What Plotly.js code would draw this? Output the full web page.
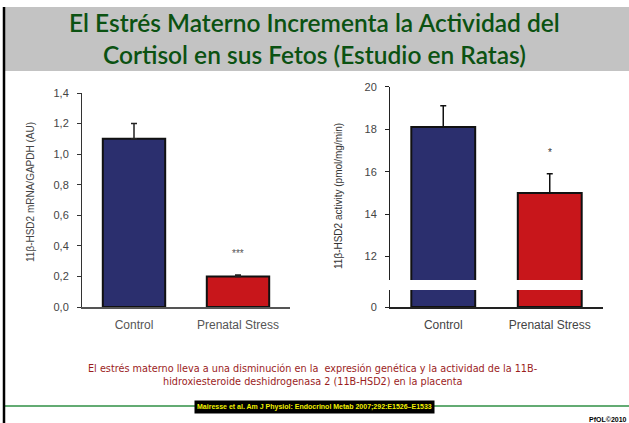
<!DOCTYPE html>
<html>
<head>
<meta charset="utf-8">
<script src="https://cdn.plot.ly/plotly-3.0.1.min.js"></script>
<style>
  html, body { margin: 0; padding: 0; background: #ffffff; }
  #chart { width: 629px; height: 423px; }
</style>
</head>
<body>
<div id="chart"></div>
<script>
// ---- data ----
const categories = ["Control", "Prenatal Stress"];
const mrnaValues = [1.10, 0.20];
const mrnaErrors = [0.10, 0.01];
const activityValues = [18.1, 15.0];
const activityErrors = [1.0, 0.9];
const mrnaTickVals = [0, 0.2, 0.4, 0.6, 0.8, 1.0, 1.2, 1.4];
const activityTickValsUpper = [12, 14, 16, 18, 20];
const activityTickValsLower = [0];
const mrnaSignificance = ["", "***"];
const activitySignificance = ["", "*"];
const barColors = ["#2b2f6e", "#c8161b"];

const titleLines = ["El Estrés Materno Incrementa la Actividad del", "Cortisol en sus Fetos (Estudio en Ratas)"];
const captionLines = ["El estrés materno lleva a una disminución en la  expresión genética y la actividad de la 11B-",
                      "hidroxiesteroide deshidrogenasa 2 (11B-HSD2) en la placenta"];
const reference = "Mairesse et al. Am J Physiol: Endocrinol Metab 2007;292:E1526–E1533";

const W = 629, H = 423;
const px = v => v / W;
const py = v => 1 - v / H;

const tickFont = {family: "Liberation Sans, Arial, sans-serif", size: 11, color: "#444"};
const barLine = {color: "#111", width: 2};

const traces = [
  {
    type: "bar", x: categories, y: mrnaValues, xaxis: "x", yaxis: "y",
    marker: {color: barColors, line: barLine},
    error_y: {type: "data", symmetric: false, array: mrnaErrors, arrayminus: [0, 0],
              color: "#222", thickness: 1.5, width: 3},
    hoverinfo: "none"
  },
  {
    type: "bar", x: categories, y: activityValues, xaxis: "x2", yaxis: "y2",
    marker: {color: barColors, line: barLine},
    error_y: {type: "data", symmetric: false, array: activityErrors, arrayminus: [0, 0],
              color: "#111", thickness: 1.5, width: 3},
    hoverinfo: "none"
  },
  {
    type: "bar", x: categories, y: activityValues, xaxis: "x2", yaxis: "y3",
    marker: {color: barColors, line: barLine},
    hoverinfo: "none"
  }
];

const annotations = [];
annotations.push({xref: "paper", yref: "paper", x: px(314), y: py(38.5), text: titleLines.join("<br>"),
  showarrow: false, xanchor: "center", yanchor: "middle", align: "center",
  font: {family: "Lato, sans-serif", size: 24.5, color: "#0b5212", weight: 600}});
captionLines.forEach((t, i) => {
  annotations.push({xref: "paper", yref: "paper", x: px(313), y: py(368 + i * 13), text: t, showarrow: false,
    xanchor: "center", yanchor: "middle",
    font: {family: "DejaVu Sans, sans-serif", size: 9.7, color: "#9b1d1d"}});
});
annotations.push({xref: "paper", yref: "paper", x: px(314), y: py(406.5), text: "<b>" + reference + "</b>",
  showarrow: false, xanchor: "center", yanchor: "middle", bgcolor: "#000000", borderpad: 2,
  font: {family: "Liberation Sans Narrow, Liberation Sans, sans-serif", size: 7, color: "#f2f200"}});
annotations.push({xref: "paper", yref: "paper", x: px(629), y: py(419), text: "<b>PfOL©2010</b>",
  showarrow: false, xanchor: "right", yanchor: "middle",
  font: {family: "Liberation Sans, sans-serif", size: 7, color: "#000"}});
// axis titles
annotations.push({xref: "paper", yref: "paper", x: px(30), y: py(192), text: "11β-HSD2 mRNA/GAPDH (AU)",
  textangle: -90, showarrow: false, xanchor: "center", yanchor: "middle",
  font: {family: "Liberation Sans, sans-serif", size: 10, color: "#444"}});
annotations.push({xref: "paper", yref: "paper", x: px(338), y: py(196), text: "11β-HSD2 activity (pmol/mg/min)",
  textangle: -90, showarrow: false, xanchor: "center", yanchor: "middle",
  font: {family: "Liberation Sans, sans-serif", size: 10, color: "#333"}});
// significance marks
categories.forEach((c, i) => {
  if (mrnaSignificance[i]) annotations.push({xref: "x", yref: "y", x: c, y: mrnaValues[i] + mrnaErrors[i],
    text: mrnaSignificance[i], showarrow: false, yanchor: "bottom", yshift: 14,
    font: {family: "Liberation Sans, sans-serif", size: 10, color: "#555"}});
  if (activitySignificance[i]) annotations.push({xref: "x2", yref: "y2", x: c, y: activityValues[i] + activityErrors[i],
    text: activitySignificance[i], showarrow: false, yanchor: "bottom", yshift: 14,
    font: {family: "Liberation Sans, sans-serif", size: 10, color: "#333"}});
});

const layout = {
  width: W, height: H,
  margin: {l: 0, r: 0, t: 0, b: 0},
  paper_bgcolor: "#ffffff", plot_bgcolor: "rgba(0,0,0,0)",
  separators: ",.",
  showlegend: false,
  bargap: 0.4,
  xaxis: {domain: [px(82), px(290)], anchor: "y", type: "category",
          showline: true, linecolor: "#555", linewidth: 1.5, ticks: "", showgrid: false, zeroline: false,
          tickfont: {family: "Liberation Sans, sans-serif", size: 12, color: "#555"}, ticklabelstandoff: 6},
  yaxis: {domain: [py(307), py(93)], anchor: "x", range: [0, 1.4], tickvals: mrnaTickVals, tickformat: ".1f",
          showline: true, linecolor: "#333", linewidth: 1, ticks: "outside", ticklen: 4, tickcolor: "#333",
          showgrid: false, zeroline: false, tickfont: tickFont, ticklabelstandoff: 6},
  xaxis2: {domain: [px(390), px(603)], anchor: "y3", type: "category",
          showline: true, linecolor: "#222", linewidth: 1.5, ticks: "", showgrid: false, zeroline: false,
          tickfont: {family: "Liberation Sans, sans-serif", size: 12, color: "#444"}, ticklabelstandoff: 6},
  yaxis2: {domain: [py(280), py(86.7)], anchor: "x2", range: [10.9, 20], tickvals: activityTickValsUpper,
          showline: true, linecolor: "#222", linewidth: 1, ticks: "outside", ticklen: 4, tickcolor: "#222",
          showgrid: false, zeroline: false, tickfont: tickFont, ticklabelstandoff: 6},
  yaxis3: {domain: [py(307), py(290)], anchor: "x2", range: [0, 0.8], tickvals: activityTickValsLower,
          showline: true, linecolor: "#222", linewidth: 1, ticks: "outside", ticklen: 4, tickcolor: "#222",
          showgrid: false, zeroline: false, tickfont: tickFont, ticklabelstandoff: 6},
  shapes: [
    {type: "rect", xref: "paper", yref: "paper", x0: px(3), x1: px(629), y0: py(71), y1: py(7),
     fillcolor: "#c3c3c3", line: {width: 0}, layer: "below"},
    {type: "line", xref: "paper", yref: "paper", x0: px(4), x1: px(4), y0: py(423), y1: py(7),
     line: {color: "#000", width: 2.5}},
    {type: "line", xref: "paper", yref: "paper", x0: px(5), x1: px(629), y0: py(406), y1: py(406),
     line: {color: "#2f8f45", width: 1.5}, layer: "below"}
  ],
  annotations: annotations
};

Plotly.newPlot("chart", traces, layout, {displayModeBar: false, staticPlot: true});
</script>
</body>
</html>
